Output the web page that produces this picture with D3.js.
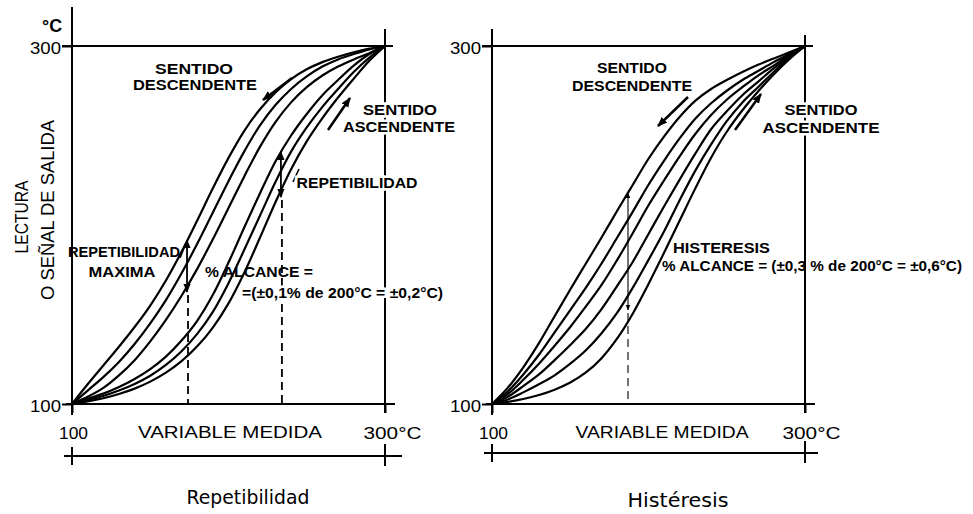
<!DOCTYPE html>
<html>
<head>
<meta charset="utf-8">
<script src="https://cdn.jsdelivr.net/npm/d3@7"></script>
<style>
  body { margin: 0; background: #fff; }
  svg { display: block; }
</style>
</head>
<body>
<div id="chart"></div>
<script>
// variable medida (°C) at which every curve is read
const xs = [100, 110, 120, 130, 140, 150, 160, 170, 180, 190, 200, 210, 220, 230, 240, 250, 260, 270, 280, 290, 300];

// Repetibilidad - lecturas en sentido descendente
const repDesc1 = [100, 111, 121.5, 132, 143, 155, 169, 185, 202.5, 220.5, 237.5, 252.5, 264.5, 274, 281.5, 287, 291, 294, 296.5, 298.5, 300];
const repDesc2 = [100, 107.5, 115, 123.5, 133.5, 145, 158, 173, 189.5, 207, 224.5, 241, 255.5, 267, 276, 283, 288.5, 292.5, 295.5, 298.1, 300];
const repDesc3 = [100, 104, 109, 116, 124.5, 135, 147, 160.5, 175.5, 192, 209.5, 227, 243.5, 257.5, 268.5, 277, 283.5, 288.5, 292.5, 296, 300];
// Repetibilidad - lecturas en sentido ascendente
const repAsc1 = [100, 103, 105.8, 109.5, 114, 119.5, 126.5, 135.5, 146.5, 161, 179, 198.5, 217.5, 235.5, 250, 262, 272.5, 281, 289, 295.5, 300];
const repAsc2 = [100, 102.2, 104.5, 107.5, 111.2, 115.8, 121.8, 129.5, 139.2, 151.5, 167.5, 186, 205, 224, 241, 254.5, 266, 276, 285.5, 293.5, 300];
const repAsc3 = [100, 101.4, 103.2, 105.6, 108.6, 112.5, 117.5, 123.9, 132.2, 142.7, 156.2, 173.2, 192.7, 212.7, 231.2, 246.7, 259.7, 271.2, 281.7, 291.7, 300];

// Histéresis - ciclos de lectura
const hys1 = [100, 109, 120.5, 134, 149, 164, 178.5, 193, 208, 222.5, 237, 249.5, 260.5, 269.5, 276, 281, 285.5, 289.5, 293, 296.5, 300];
const hys2 = [100, 107, 116.5, 127.5, 140, 152.5, 165, 178.5, 193, 207.5, 222.5, 236, 248.5, 259.5, 268, 275, 281, 286, 291, 295.5, 300];
const hys3 = [100, 105.5, 113.5, 122.5, 132.5, 143, 154.5, 166.5, 180.5, 195.5, 211, 225, 238.5, 251, 261.5, 270, 277, 283.5, 289, 295, 300];
const hys4 = [100, 104, 110, 116.5, 124.5, 133, 142, 153, 166, 179.5, 195, 210.5, 225.5, 240, 253.5, 263.5, 272.5, 280, 287.5, 294, 300];
const hys5 = [100, 102.5, 106.5, 111, 116, 122.5, 130, 139.5, 151, 165, 180.5, 196.5, 214, 230.5, 245, 258, 268.5, 277, 285.5, 293.5, 300];
const hys6 = [100, 101.2, 102.8, 105, 108, 112, 117.6, 125.6, 136.6, 150.6, 167.1, 184.6, 202.6, 220.6, 237.6, 252.1, 264.1, 274.6, 284.1, 292.6, 300];

// scale ends and their labels
const axisTicks = [100, 300];
const yTickText = ['100', '300'];
const xTickText = ['100', '300°C'];

// spans marked on the curves: [variable medida, lectura alta, lectura baja]
const repMaxSpan = [173.5, 191.6, 162.6];
const repSpan = [233.5, 240.8, 215.6];
const hysSpan = [186.9, 217.9, 152.5];

(function () {

    const svg = d3.select('#chart')
        .append('svg')
        .attr('width', 973)
        .attr('height', 514)
        .style('background', '#fff');

    const defs = svg.append('defs');
    defs.append('marker')
        .attr('id', 'head')
        .attr('viewBox', '0 0 10 10')
        .attr('refX', 9).attr('refY', 5)
        .attr('markerWidth', 4).attr('markerHeight', 4)
        .attr('orient', 'auto-start-reverse')
        .append('path').attr('d', 'M0,1 L10,5 L0,9 z').attr('fill', '#000');
    defs.append('marker')
        .attr('id', 'small')
        .attr('viewBox', '0 0 10 10')
        .attr('refX', 9).attr('refY', 5)
        .attr('markerWidth', 5).attr('markerHeight', 5)
        .attr('orient', 'auto-start-reverse')
        .append('path').attr('d', 'M0,1 L10,5 L0,9 z').attr('fill', '#000');

    const upper = '"Liberation Sans", "DejaVu Sans", sans-serif';
    const round = '"DejaVu Sans", "Open Sans", sans-serif';

    const y = d3.scaleLinear().domain([100, 300]).range([404, 46]);

    function label(g, t, px, py, w, size, opts) {
        opts = opts || {};
        const el = g.append('text')
            .attr('x', px).attr('y', py)
            .attr('text-anchor', opts.anchor || 'middle')
            .attr('font-family', opts.family || upper)
            .attr('font-size', size)
            .attr('font-weight', opts.bold ? 'bold' : 'normal')
            .attr('textLength', w)
            .attr('lengthAdjust', 'spacingAndGlyphs')
            .text(t);
        if (opts.halo) {
            el.attr('stroke', '#fff').attr('stroke-width', 5).attr('paint-order', 'stroke');
        }
        return el;
    }

    function drawPanel(cfg) {

        const x = d3.scaleLinear().domain([100, 300]).range([cfg.left, cfg.left + 313]);
        const g = svg.append('g');

        const line = d3.line()
            .x((d, i) => x(xs[i]))
            .y(d => y(d))
            .curve(d3.curveCatmullRom.alpha(0.5));

        // frame
        const frame = [
            [x(100), cfg.axisTop, x(100), 415],
            [x(100) - 10, y(300), x(300) + 8, y(300)],
            [x(300), cfg.rightTop, x(300), 413],
            [x(100) - 6, y(100), x(300) + 10, y(100)],
            [x(100) - 8, cfg.barY, x(300) + cfg.barExtra, cfg.barY],
            [x(100), cfg.barY - 9, x(100), cfg.barY + 9],
            [x(300), cfg.barY - 12, x(300), cfg.barY + 10]
        ];
        g.selectAll('line.frame')
            .data(frame)
            .join('line')
            .attr('class', 'frame')
            .attr('x1', d => d[0]).attr('y1', d => d[1])
            .attr('x2', d => d[2]).attr('y2', d => d[3])
            .attr('stroke', '#000')
            .attr('stroke-width', 2);

        // axes
        const yAxis = g.append('g')
            .attr('transform', `translate(${x(100)},0)`)
            .call(d3.axisLeft(y).tickValues(axisTicks).tickSize(10).tickPadding(1)
                .tickFormat((d, i) => yTickText[i]));
        const xAxis = g.append('g')
            .attr('transform', `translate(0,${y(100)})`)
            .call(d3.axisBottom(x).tickValues(axisTicks).tickSize(9).tickPadding(14)
                .tickFormat((d, i) => xTickText[i]));
        [yAxis, xAxis].forEach(a => {
            a.select('.domain').remove();
            a.selectAll('line').attr('stroke', '#000').attr('stroke-width', 2);
            a.selectAll('text')
                .attr('fill', '#000')
                .attr('font-family', upper)
                .attr('font-size', 17)
                .attr('lengthAdjust', 'spacingAndGlyphs');
        });
        yAxis.selectAll('text').attr('dy', '0.42em').attr('textLength', 31);
        xAxis.selectAll('text')
            .attr('textLength', (d, i) => i ? 58 : 29)
            .attr('dx', (d, i) => i ? cfg.endShift : 1);

        // curves
        g.selectAll('path.curve')
            .data(cfg.curves)
            .join('path')
            .attr('class', 'curve')
            .attr('d', line)
            .attr('fill', 'none')
            .attr('stroke', '#000')
            .attr('stroke-width', 2.2);

        // spans with arrows and dashed projections
        cfg.spans.forEach(s => {
            g.append('line')
                .attr('x1', x(s.v[0])).attr('y1', y(s.v[1]))
                .attr('x2', x(s.v[0])).attr('y2', y(s.v[2]))
                .attr('stroke', '#000')
                .attr('stroke-width', s.w)
                .attr('marker-start', 'url(#small)')
                .attr('marker-end', 'url(#small)');
            g.append('line')
                .attr('x1', x(s.v[0]) + s.dashShift).attr('y1', y(s.v[2]) + 3)
                .attr('x2', x(s.v[0]) + s.dashShift).attr('y2', y(100))
                .attr('stroke', '#000')
                .attr('stroke-width', s.w)
                .attr('stroke-dasharray', '8,5');
        });

        // direction arrows
        g.selectAll('line.dir')
            .data(cfg.arrows)
            .join('line')
            .attr('class', 'dir')
            .attr('x1', d => d[0]).attr('y1', d => d[1])
            .attr('x2', d => d[2]).attr('y2', d => d[3])
            .attr('stroke', '#000')
            .attr('stroke-width', 2.5)
            .attr('marker-end', 'url(#head)');

        // leader strokes
        g.selectAll('line.lead')
            .data(cfg.leaders)
            .join('line')
            .attr('class', 'lead')
            .attr('x1', d => d[0]).attr('y1', d => d[1])
            .attr('x2', d => d[2]).attr('y2', d => d[3])
            .attr('stroke', '#000')
            .attr('stroke-width', 1.6);

        cfg.texts.forEach(t => label(g, t.t, t.x, t.y, t.w, t.s, t));
    }

    // Repetibilidad
    drawPanel({
        left: 72,
        axisTop: 7,
        rightTop: 29,
        barY: 456,
        barExtra: 17,
        endShift: 7,
        curves: [repDesc1, repDesc2, repDesc3, repAsc1, repAsc2, repAsc3],
        spans: [
            { v: repMaxSpan, w: 1.8, dashShift: 1 },
            { v: repSpan, w: 1.8, dashShift: 1 }
        ],
        arrows: [
            [292, 78, 263, 100],
            [328, 130, 350, 98]
        ],
        leaders: [
            [180, 258, 186, 243],
            [293, 182, 299, 169]
        ],
        texts: [
            { t: '°C', x: 52, y: 32, w: 20, s: 19, bold: true },
            { t: 'SENTIDO', x: 194, y: 74, w: 78, s: 14, bold: true },
            { t: 'DESCENDENTE', x: 195, y: 90, w: 124, s: 14, bold: true },
            { t: 'SENTIDO', x: 400, y: 115, w: 74, s: 15, bold: true, halo: true },
            { t: 'ASCENDENTE', x: 399, y: 132, w: 112, s: 15, bold: true, halo: true },
            { t: 'REPETIBILIDAD', x: 357, y: 188, w: 121, s: 15, bold: true, halo: true },
            { t: 'REPETIBILIDAD', x: 68, y: 257, w: 112, s: 14, bold: true, anchor: 'start' },
            { t: 'MAXIMA', x: 122, y: 277, w: 67, s: 14, bold: true },
            { t: '% ALCANCE =', x: 205, y: 277, w: 108, s: 14, bold: true, anchor: 'start' },
            { t: '=(±0,1% de 200°C = ±0,2°C)', x: 242, y: 298, w: 201, s: 14, bold: true, anchor: 'start', halo: true },
            { t: 'VARIABLE MEDIDA', x: 230, y: 438, w: 184, s: 17 },
            { t: 'Repetibilidad', x: 248, y: 504, w: 123, s: 19, family: round }
        ]
    });

    // Histéresis
    drawPanel({
        left: 492,
        axisTop: 29,
        rightTop: 35,
        barY: 453,
        barExtra: 13,
        endShift: 6,
        curves: [hys1, hys2, hys3, hys4, hys5, hys6],
        spans: [
            { v: hysSpan, w: 1.1, dashShift: 0 }
        ],
        arrows: [
            [688, 97, 658, 126],
            [735, 130, 761, 94]
        ],
        leaders: [],
        texts: [
            { t: 'SENTIDO', x: 632, y: 73, w: 70, s: 15, bold: true },
            { t: 'DESCENDENTE', x: 632, y: 91, w: 120, s: 15, bold: true },
            { t: 'SENTIDO', x: 821, y: 115, w: 73, s: 15, bold: true, halo: true },
            { t: 'ASCENDENTE', x: 821, y: 133, w: 117, s: 15, bold: true, halo: true },
            { t: 'HISTERESIS', x: 673, y: 253, w: 97, s: 15, bold: true, anchor: 'start' },
            { t: '% ALCANCE = (±0,3 % de 200°C = ±0,6°C)', x: 662, y: 271, w: 300, s: 15, bold: true, anchor: 'start' },
            { t: 'VARIABLE MEDIDA', x: 662, y: 438, w: 173, s: 17 },
            { t: 'Histéresis', x: 678, y: 507, w: 101, s: 19, family: round }
        ]
    });

    // y-axis title
    const title = svg.append('g')
        .attr('font-family', upper)
        .attr('font-size', 18);
    title.append('text')
        .attr('transform', 'translate(28,217) rotate(-90)')
        .attr('text-anchor', 'middle')
        .attr('textLength', 73)
        .attr('lengthAdjust', 'spacingAndGlyphs')
        .text('LECTURA');
    title.append('text')
        .attr('transform', 'translate(54,210) rotate(-90)')
        .attr('text-anchor', 'middle')
        .attr('textLength', 180)
        .attr('lengthAdjust', 'spacingAndGlyphs')
        .text('O SEÑAL DE SALIDA');

})();
</script>
</body>
</html>
